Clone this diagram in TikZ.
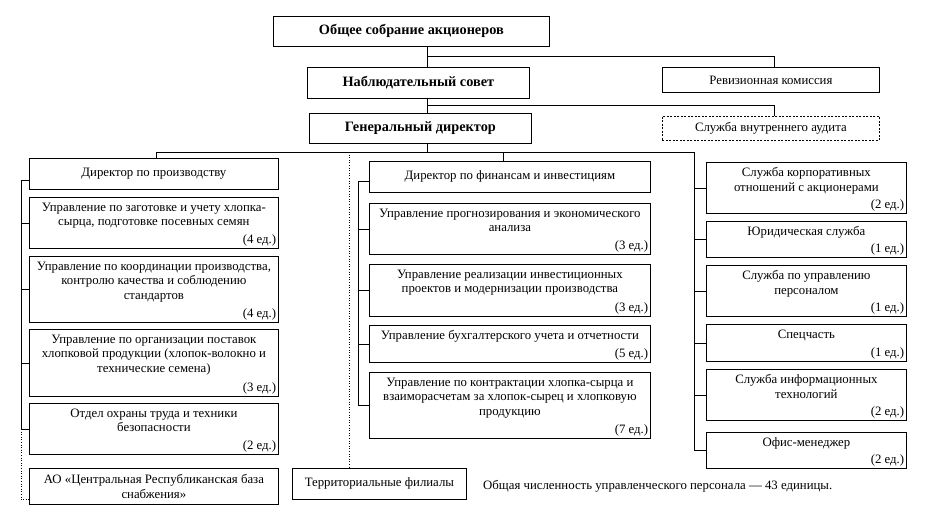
\documentclass[tikz,border=0pt]{standalone}
\usepackage{fontspec}
\setmainfont{Liberation Serif}
\newcommand{\ubox}[7]{%
  \node[boxst, minimum width={(#4-#2)*1pt}, minimum height={(#5-#3)*1pt}] (#1) at (#2,#3) {};
  \node[txt, anchor=north] (#1t) at ([yshift=-4.5pt]#1.north) {#6};
  \node[txt, anchor=south east, inner sep=2.5pt] (#1u) at (#1.south east) {#7};
}
\newcommand{\cbox}[7]{%
  \node[boxst, minimum width={(#4-#2)*1pt}, minimum height={(#5-#3)*1pt}, #6] (#1) at (#2,#3) {};
  \node[txt] (#1t) at (#1.center) {#7};
}
\newcommand{\bldfont}{\fontsize{14.3}{17}\selectfont\bfseries}
\begin{document}
\begin{tikzpicture}[x=1pt,y=-1pt,
  boxst/.style={draw, line width=0.8pt, inner sep=0pt, anchor=north west},
  txt/.style={align=center, font=\fontsize{12.8}{14.6}\selectfont, inner sep=1pt},
  dsh/.style={dash pattern=on 2pt off 1.5pt},
  ln/.style={line width=0.8pt},
  dot/.style={line width=1pt, dash pattern=on 1pt off 1.6pt}]
\useasboundingbox (0,0) rectangle (944,511);
% top levels
\cbox{gm}{273}{16}{549}{46}{}{\bldfont Общее собрание акционеров}
\cbox{ns}{307}{67}{529}{98}{}{\bldfont Наблюдательный совет}
\cbox{gd}{309}{113}{531}{143}{}{\bldfont Генеральный директор}
\cbox{rev}{662}{67}{879}{92}{}{Ревизионная комиссия}
\cbox{aud}{662}{116}{879}{140}{dsh}{Служба внутреннего аудита}
% production column
\cbox{dp}{29}{158}{278}{189}{}{Директор по производству}
\ubox{p1}{29}{197}{278}{248}{Управление по заготовке и учету хлопка-\\сырца, подготовке посевных семян}{(4 ед.)}
\ubox{p2}{29}{256}{278}{322}{Управление по координации производства,\\контролю качества и соблюдению\\стандартов}{(4 ед.)}
\ubox{p3}{29}{329}{278}{396}{Управление по организации поставок\\хлопковой продукции (хлопок-волокно и\\технические семена)}{(3 ед.)}
\ubox{p4}{29}{403}{278}{454}{Отдел охраны труда и техники\\безопасности}{(2 ед.)}
\cbox{ao}{29}{468}{278}{504}{}{АО «Центральная Республиканская база\\снабжения»}
% finance column
\cbox{df}{369}{161}{650}{192}{}{Директор по финансам и инвестициям}
\ubox{f1}{369}{203}{650}{254}{Управление прогнозирования и экономического\\анализа}{(3 ед.)}
\ubox{f2}{369}{264}{650}{316}{Управление реализации инвестиционных\\проектов и модернизации производства}{(3 ед.)}
\ubox{f3}{369}{325}{650}{362}{Управление бухгалтерского учета и отчетности}{(5 ед.)}
\ubox{f4}{369}{372}{650}{438}{Управление по контрактации хлопка-сырца и\\взаиморасчетам за хлопок-сырец и хлопковую\\продукцию}{(7 ед.)}
% right column
\ubox{r1}{706}{162}{906}{213}{Служба корпоративных\\отношений с акционерами}{(2 ед.)}
\ubox{r2}{706}{221}{906}{257}{Юридическая служба}{(1 ед.)}
\ubox{r3}{706}{265}{906}{316}{Служба по управлению\\персоналом}{(1 ед.)}
\ubox{r4}{706}{324}{906}{361}{Спецчасть}{(1 ед.)}
\ubox{r5}{706}{369}{906}{420}{Служба информационных\\технологий}{(2 ед.)}
\ubox{r6}{706}{432}{906}{468}{Офис-менеджер}{(2 ед.)}
% territorial
\cbox{ter}{292}{468}{466}{499}{}{Территориальные филиалы}
\node[txt, anchor=west] (note) at (482,486) {Общая численность управленческого персонала — 43 единицы.};
% connectors
\coordinate (sp) at (427,0);
\coordinate (j1) at (427,56);
\coordinate (j2) at (427,105);
\coordinate (j3) at (427,152);
\coordinate (rtop) at (694,152);
\coordinate (dtop) at (349,152);
\coordinate (pl) at (21,0);
\coordinate (fl) at (358,0);
\draw[ln] (gm.south -| sp) -- (ns.north -| sp);
\draw[ln] (j1) -| ([xshift=3pt]rev.north);
\draw[ln] (ns.south -| sp) -- (gd.north -| sp);
\draw[ln] (j2) -| ([xshift=3pt]aud.north);
\draw[ln] (gd.south -| sp) -- (j3);
\draw[ln] ([xshift=2.5pt]dp.north) |- (rtop) |- (r6.west);
\foreach \r in {r1,r2,r3,r4,r5} \draw[ln] (\r.west) -- (\r.west -| rtop);
\draw[ln] ([xshift=-6.5pt]df.north) -- ([xshift=-6.5pt]df.north |- rtop);
\draw[dot] (dtop) -- (dtop |- ter.north);
\draw[ln] ([yshift=-6pt]dp.west) -| (pl |- p4.west) -- (p4.west);
\foreach \n in {p1,p2,p3} \draw[ln] (\n.west) -- (\n.west -| pl);
\draw[dot] (pl |- p4.west) |- ([yshift=5pt]ao.south west);
\draw[ln] ([yshift=-4pt]df.west) -| (fl |- f4.west) -- (f4.west);
\foreach \n in {f1,f2,f3} \draw[ln] (\n.west) -- (\n.west -| fl);
\end{tikzpicture}
\end{document}
